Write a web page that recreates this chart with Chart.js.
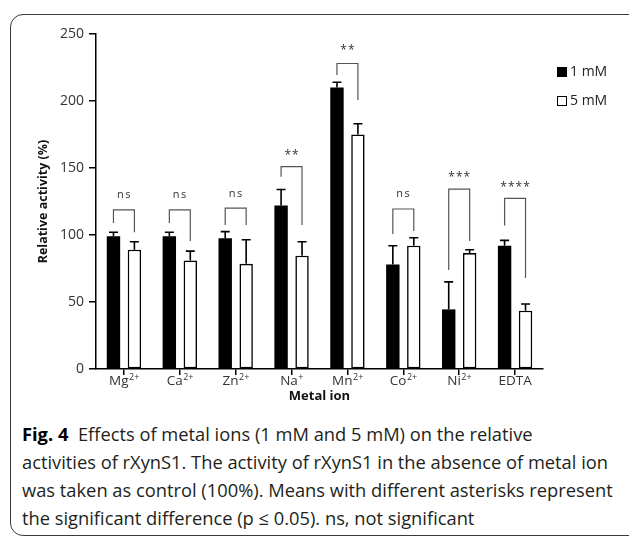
<!DOCTYPE html>
<html><head><meta charset="utf-8">
<script src="https://cdn.jsdelivr.net/npm/chart.js@4/dist/chart.umd.min.js"></script>
<style>
html,body{margin:0;padding:0;background:#fff;width:629px;height:538px;overflow:hidden;}
#frame{position:absolute;left:10px;top:14px;width:660px;height:522px;border:1.4px solid #3a3a3a;border-radius:13px;box-sizing:border-box;}
#wrap{position:absolute;left:0;top:0;width:629px;height:405px;}
#caption{position:absolute;left:22px;top:420px;font-family:"Open Sans";font-size:18px;line-height:28px;color:#231f20;white-space:nowrap;transform-origin:0 0;}
#caption b{font-weight:700;color:#000;}
</style></head><body>
<div id="frame"></div>
<div id="wrap"><canvas id="c" width="629" height="405"></canvas></div>
<div id="caption">
<div><span><b>Fig. 4</b>&nbsp; Effects of metal ions (1 mM and 5 mM) on the relative</span></div>
<div><span id="ln2">activities of rXynS1. The activity of rXynS1 in the absence of metal ion</span></div>
<div><span>was taken as control (100%). Means with different asterisks represent</span></div>
<div><span>the significant difference (p ≤ 0.05). ns, not significant</span></div>
</div>
<script>
const tickBase = ['Mg', 'Ca', 'Zn', 'Na', 'Mn', 'Co', 'Ni', 'EDTA'];
const tickSup = ['2+', '2+', '2+', '+', '2+', '2+', '2+', ''];
const categories = tickBase.map((b, i) => b + tickSup[i]);
const seriesLabels = ['1 mM', '5 mM'];
const values1mM = [99, 99, 97.5, 122, 210, 78, 44.5, 92];
const values5mM = [89, 81, 78.5, 84.5, 175, 92, 86.5, 43.5];
const err1mM = [3, 3, 5, 12, 4, 14, 20.5, 4];
const err5mM = [6, 7, 18, 10.5, 8, 6, 2.5, 5];
const sigLabels = ['ns', 'ns', 'ns', '**', '**', 'ns', '***', '****'];
const bracketTop = [118.7, 118.7, 120, 151, 228, 119.4, 134.3, 127.4];
const bracketLeftEnd = [109, 109, 107.5, 143.5, 219.4, 100.7, 73.9, 107];
const bracketRightEnd = [102, 95.5, 107.5, 107.5, 200.7, 103, 95.5, 68];
const sigLabelY = [130, 130, 131, 161.5, 239.5, 131, 144.8, 137.8];
const yTicks = [0, 50, 100, 150, 200, 250];

const FONT = 'Open Sans';

const errorBars = {
  id: 'errorBars',
  afterDatasetsDraw(chart) {
    const ctx = chart.ctx, ys = chart.scales.y;
    [err1mM, err5mM].forEach((errs, di) => {
      const meta = chart.getDatasetMeta(di);
      meta.data.forEach((bar, i) => {
        const v = chart.data.datasets[di].data[i];
        const y0 = ys.getPixelForValue(v), y1 = ys.getPixelForValue(v + errs[i]);
        ctx.save();
        ctx.strokeStyle = '#000'; ctx.lineWidth = 1.6;
        ctx.beginPath();
        ctx.moveTo(bar.x, y0); ctx.lineTo(bar.x, y1);
        ctx.moveTo(bar.x - 4.5, y1); ctx.lineTo(bar.x + 4.5, y1);
        ctx.stroke();
        ctx.restore();
      });
    });
  }
};

const brackets = {
  id: 'brackets',
  afterDatasetsDraw(chart) {
    const ctx = chart.ctx, ys = chart.scales.y;
    const m0 = chart.getDatasetMeta(0), m1 = chart.getDatasetMeta(1);
    categories.forEach((c, i) => {
      const xl = m0.data[i].x, xr = m1.data[i].x;
      const yt = ys.getPixelForValue(bracketTop[i]);
      ctx.save();
      ctx.strokeStyle = '#555'; ctx.lineWidth = 1.2;
      ctx.beginPath();
      ctx.moveTo(xl, ys.getPixelForValue(bracketLeftEnd[i]));
      ctx.lineTo(xl, yt); ctx.lineTo(xr, yt);
      ctx.lineTo(xr, ys.getPixelForValue(bracketRightEnd[i]));
      ctx.stroke();
      ctx.fillStyle = '#333';
      ctx.textAlign = 'center'; ctx.textBaseline = 'middle';
      const lab = sigLabels[i];
      let ly = ys.getPixelForValue(sigLabelY[i]);
      if (lab.includes('*')) { ctx.font = '12px "' + FONT + '"'; ly += 3; ctx.letterSpacing = '1px'; }
      else { ctx.font = '11px "' + FONT + '"'; ctx.letterSpacing = '1.5px'; }
      ctx.fillText(lab, (xl + xr) / 2 + 0.5, ly);
      ctx.restore();
    });
  }
};

const xLabels = {
  id: 'xLabels',
  afterDraw(chart) {
    const ctx = chart.ctx, xs = chart.scales.x, base = chart.chartArea.bottom + 16;
    tickBase.forEach((b, i) => {
      const x = xs.getPixelForTick(i);
      ctx.save();
      ctx.fillStyle = '#333'; ctx.textBaseline = 'alphabetic'; ctx.textAlign = 'left';
      ctx.font = '13.5px "' + FONT + '"';
      const wb = ctx.measureText(b).width;
      ctx.font = '9px "' + FONT + '"';
      const ws = ctx.measureText(tickSup[i]).width;
      const x0 = x - (wb + ws) / 2;
      ctx.font = '13.5px "' + FONT + '"';
      ctx.fillText(b, x0, base);
      ctx.font = '9px "' + FONT + '"';
      ctx.fillText(tickSup[i], x0 + wb + 0.5, base - 5);
      ctx.restore();
    });
  }
};

const legendBoxes = {
  id: 'legendBoxes',
  afterDraw(chart) {
    const ctx = chart.ctx, a = chart.chartArea;
    chart.data.datasets.forEach((ds, i) => {
      const bx = a.right + 14, by = a.top + 33 + i * 29;
      ctx.save();
      ctx.fillStyle = ds.backgroundColor;
      ctx.fillRect(bx, by, 10, 10);
      if (i === 1) { ctx.strokeStyle = '#000'; ctx.lineWidth = 1; ctx.strokeRect(bx + 0.5, by + 0.5, 9, 9); }
      ctx.fillStyle = '#222';
      ctx.font = '14px "' + FONT + '"';
      ctx.textBaseline = 'middle'; ctx.textAlign = 'left';
      ctx.fillText(ds.label, bx + 13, by + 5.5);
      ctx.restore();
    });
  }
};

function draw() {
  new Chart(document.getElementById('c'), {
    type: 'bar',
    data: {
      labels: categories,
      datasets: [
        { label: seriesLabels[0], data: values1mM, backgroundColor: '#000', borderWidth: 0,
          categoryPercentage: 0.75, barPercentage: 0.64 },
        { label: seriesLabels[1], data: values5mM, backgroundColor: '#fff', borderColor: '#000', borderWidth: 1.6,
          borderSkipped: false, categoryPercentage: 0.75, barPercentage: 0.64 }
      ]
    },
    options: {
      responsive: false, animation: false, devicePixelRatio: 1,
      layout: { padding: { left: 0, right: 86, top: 34, bottom: 0 } },
      plugins: { legend: { display: false }, tooltip: { enabled: false } },
      scales: {
        y: {
          min: 0, max: 250,
          afterBuildTicks: s => { s.ticks = yTicks.map(v => ({ value: v })); },
          ticks: { color: '#333', font: { family: FONT, size: 14 }, padding: 5 },
          grid: { drawOnChartArea: false, drawTicks: true, tickLength: 7, color: '#000', lineWidth: 1.5 },
          border: { display: true, color: '#000', width: 1.5 },
          title: { display: true, text: 'Relative activity (%)', color: '#111',
                   font: { family: FONT, size: 12.5, weight: 'bold' }, padding: { top: 36, bottom: 0 } },
          afterFit(s) { s.width = 96; }
        },
        x: {
          grid: { offset: false, drawOnChartArea: false, drawTicks: true, tickLength: 6, color: '#000', lineWidth: 1.5 },
          border: { display: true, color: '#000', width: 1.5 },
          ticks: { display: false },
          title: { display: true, text: 'Metal ion', color: '#111',
                   font: { family: FONT, size: 13, weight: 'bold' }, padding: { top: 0, bottom: 1 } },
          afterFit(s) { s.height = 36; }
        }
      }
    },
    plugins: [errorBars, brackets, xLabels, legendBoxes]
  });
}

function fitCaption() {
  const cap = document.getElementById('caption');
  cap.style.transform = 'none';
  const w = document.getElementById('ln2').getBoundingClientRect().width;
  cap.style.transform = 'scaleX(' + (586 / w) + ')';
}

document.fonts.ready.then(() => { fitCaption(); draw(); });
</script>
</body></html>
